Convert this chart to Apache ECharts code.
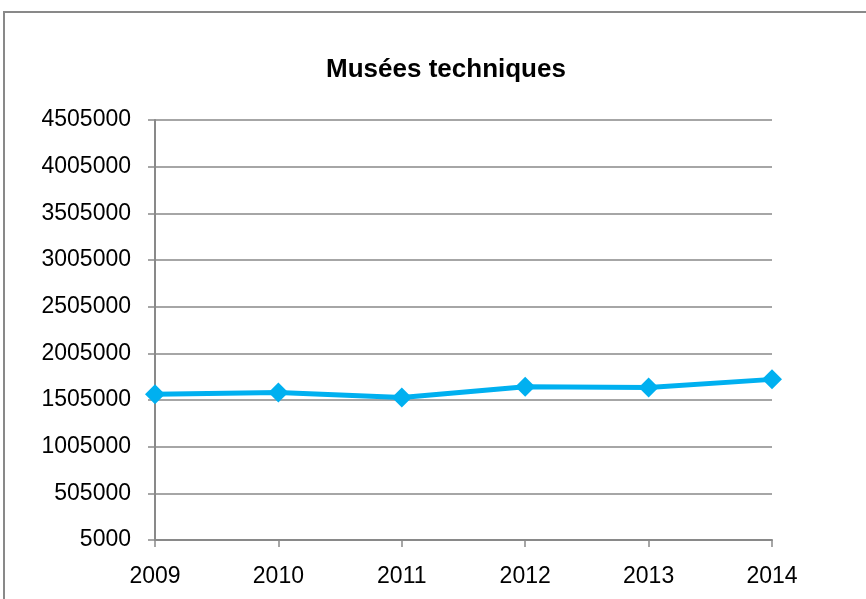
<!DOCTYPE html>
<html>
<head>
<meta charset="utf-8">
<script src="https://cdn.jsdelivr.net/npm/echarts@6/dist/echarts.min.js"></script>
<style>html,body{margin:0;padding:0;background:#fff}#c{width:866px;height:599px}</style>
</head>
<body>
<div id="c"></div>
<script>
const title = 'Musées techniques';
const years = ['2009', '2010', '2011', '2012', '2013', '2014'];
const visitors = [1567000, 1585000, 1533000, 1648000, 1640000, 1726000];
const yMin = 5000;
const yMax = 4505000;
const yStep = 500000;

const chart = echarts.init(document.getElementById('c'), null, {renderer: 'canvas'});
const font = 'Liberation Sans';
chart.setOption({
  animation: false,
  backgroundColor: '#fff',
  title: {
    text: title,
    left: 441, top: 52, textAlign: 'center',
    textStyle: {fontFamily: font, fontWeight: 'bold', fontSize: 26, color: '#000'}
  },
  graphic: [{
    type: 'rect', shape: {x: 4, y: 12, width: 900, height: 700},
    style: {fill: 'none', stroke: '#898989', lineWidth: 2}, silent: true
  }],
  grid: {left: 155, right: 94, top: 120, bottom: 59, containLabel: false},
  xAxis: {
    type: 'category', data: years, boundaryGap: false,
    axisLine: {lineStyle: {color: '#898989', width: 2}},
    axisTick: {show: true, length: 7, lineStyle: {color: '#898989', width: 1.5}},
    axisLabel: {fontFamily: font, fontSize: 23, color: '#000', margin: 25},
    splitLine: {show: false}
  },
  yAxis: {
    type: 'value', min: yMin, max: yMax, interval: yStep,
    axisLine: {show: true, lineStyle: {color: '#898989', width: 2}},
    axisTick: {show: true, length: 7, lineStyle: {color: '#898989', width: 1.5}},
    axisLabel: {fontFamily: font, fontSize: 23, color: '#000', margin: 24,
      formatter: function (v) { return String(v); }},
    splitLine: {show: true, lineStyle: {color: '#898989', width: 1.5}}
  },
  series: [{
    type: 'line', data: visitors,
    symbol: 'diamond', symbolSize: 20,
    lineStyle: {color: '#00B0F0', width: 5},
    itemStyle: {color: '#00B0F0'}
  }]
});
</script>
</body>
</html>
